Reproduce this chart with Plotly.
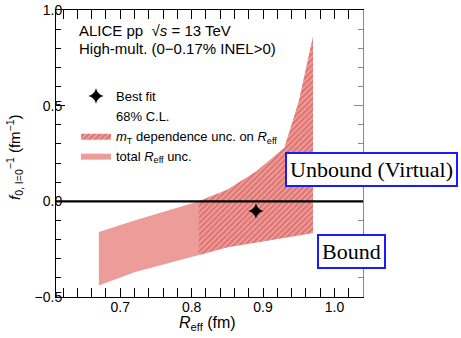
import plotly.graph_objects as go

# ---- data ----
reff = [0.67, 0.72, 0.81, 0.85, 0.89, 0.93, 0.95, 0.97]
upper = [-0.16, -0.10, 0.00, 0.06, 0.155, 0.28, 0.52, 0.86]
lower = [-0.44, -0.37, -0.28, -0.24, -0.215, -0.19, -0.178, -0.165]
mt_start = 2  # index where the mT-dependence (hatched) region begins
best_x = [0.89]
best_y = [-0.05]

W, H = 461, 338
L, R, T, B = 56, 98, 10, 41
pw, ph = W - L - R, H - T - B

def px(x):
    return (x - L) / pw

def py(y):
    return (H - B - y) / ph

SOLID = "#ec9d99"
HATCH_FG = "#cf3b3b"
FONT = "Liberation Sans"

fig = go.Figure()

# total R_eff uncertainty band
fig.add_trace(go.Scatter(
    x=reff + reff[::-1], y=upper + lower[::-1],
    fill="toself", fillcolor=SOLID, mode="lines", line=dict(width=0, color=SOLID),
    name="total <i>R</i><sub>eff</sub> unc.", legendrank=4, hoverinfo="skip"))

# mT-dependence hatched band
xs = reff[mt_start:]
fig.add_trace(go.Scatter(
    x=xs + xs[::-1], y=upper[mt_start:] + lower[mt_start:][::-1],
    fill="toself", mode="lines", line=dict(width=0, color=HATCH_FG),
    fillpattern=dict(shape="/", fgcolor=HATCH_FG, bgcolor=SOLID, size=4, solidity=0.45),
    name="<i>m</i><sub>T</sub> dependence unc. on <i>R</i><sub>eff</sub>", legendrank=3,
    hoverinfo="skip"))

# 68% C.L. label (no symbol)
fig.add_trace(go.Scatter(x=[None], y=[None], mode="lines",
                         line=dict(width=0, color="rgba(0,0,0,0)"),
                         name="68% C.L.", legendrank=2))

# best fit
fig.add_trace(go.Scatter(x=best_x, y=best_y, mode="markers",
                         marker=dict(symbol="star-diamond", size=11, color="black"),
                         name="Best fit", legendrank=1))

# invisible trace to enable right-side axis
fig.add_trace(go.Scatter(x=[None], y=[None], yaxis="y2", showlegend=False))

fig.add_shape(type="line", xref="x domain", yref="y", x0=0, x1=1, y0=0, y1=0,
              line=dict(color="black", width=2.2))

tickfont = dict(family=FONT, size=14, color="black")
fig.update_layout(
    width=W, height=H,
    margin=dict(l=L, r=R, t=T, b=B, autoexpand=False),
    paper_bgcolor="white", plot_bgcolor="white",
    showlegend=True,
    legend=dict(x=px(76), y=py(81), xanchor="left", yanchor="top",
                font=dict(family=FONT, size=13, color="black"),
                bgcolor="rgba(0,0,0,0)", traceorder="normal",
                itemwidth=30, tracegroupgap=0),
    xaxis=dict(range=[0.61, 1.04], dtick=0.1, tick0=0.7, tickformat=".1f",
               ticks="inside", ticklen=9, tickcolor="black", tickwidth=1,
               showline=True, linecolor="black", linewidth=1, mirror="allticks",
               showgrid=False, zeroline=False, tickfont=tickfont,
               ticklabelstandoff=-3,
               minor=dict(dtick=0.02, ticks="inside", ticklen=5, tickcolor="black",
                          showgrid=False)),
    yaxis=dict(range=[-0.5, 1.0], dtick=0.5, tickformat=".1f",
               ticks="inside", ticklen=9, tickcolor="black", tickwidth=1,
               showline=True, linecolor="black", linewidth=1,
               showgrid=False, zeroline=False, tickfont=tickfont,
               ticklabelstandoff=-10,
               minor=dict(dtick=0.1, ticks="inside", ticklen=5, tickcolor="black",
                          showgrid=False)),
    yaxis2=dict(range=[-0.5, 1.0], dtick=0.5, overlaying="y", side="right",
                ticks="inside", ticklen=9, tickcolor="#888888",
                showline=True, linecolor="#888888", linewidth=1.2,
                showticklabels=False, showgrid=False, zeroline=False,
                minor=dict(dtick=0.1, ticks="inside", ticklen=5, tickcolor="#888888",
                           showgrid=False)),
)

hdr = dict(family=FONT, size=15, color="black")
fig.add_annotation(xref="paper", yref="paper", x=px(77), y=py(31), xanchor="left",
                   yanchor="middle", showarrow=False, font=hdr,
                   text="ALICE pp  √<i>s</i> = 13 TeV")
fig.add_annotation(xref="paper", yref="paper", x=px(77), y=py(48), xanchor="left",
                   yanchor="middle", showarrow=False, font=hdr,
                   text="High-mult. (0−0.17% INEL>0)")

# axis titles
fig.add_annotation(xref="paper", yref="paper", x=px(207), y=py(324), xanchor="center",
                   yanchor="middle", showarrow=False,
                   font=dict(family=FONT, size=16, color="black"),
                   text="<i>R</i><sub>eff</sub> (fm)")
fig.add_annotation(xref="paper", yref="paper", x=px(14), y=py(157), xanchor="center",
                   yanchor="middle", showarrow=False, textangle=-90,
                   font=dict(family=FONT, size=15, color="black"),
                   text="<i>f</i><sub>0, I=0</sub><sup>−1</sup> (fm<sup>−1</sup>)")

# boxed labels
serif = dict(family="Liberation Serif", size=22, color="black")
fig.add_annotation(xref="paper", yref="paper", x=px(371), y=py(169), showarrow=False,
                   xanchor="center", yanchor="middle",
                   text="Unbound (Virtual)", font=serif, bgcolor="white",
                   bordercolor="#1a1aff", borderwidth=2, borderpad=3)
fig.add_annotation(xref="paper", yref="paper", x=px(351), y=py(251), showarrow=False,
                   xanchor="center", yanchor="middle",
                   text="Bound", font=serif, bgcolor="white",
                   bordercolor="#1a1aff", borderwidth=2, borderpad=3)

fig.write_html("out.html", post_script="document.body.style.margin='0';",
               config={"displayModeBar": False})
